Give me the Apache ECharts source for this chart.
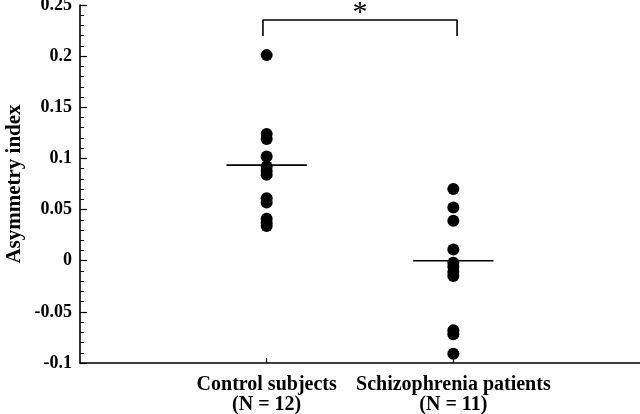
<!DOCTYPE html>
<html><head><meta charset="utf-8">
<script src="https://cdn.jsdelivr.net/npm/echarts@6/dist/echarts.min.js"></script>
<style>html,body{margin:0;padding:0;background:#fff}#c{width:640px;height:414px}</style>
</head><body><div id="c"></div>
<script>
var categories = ["Control subjects\n(N = 12)", "Schizophrenia patients\n(N = 11)"];
var controlValues = [0.201, 0.124, 0.119, 0.102, 0.092, 0.088, 0.084, 0.061, 0.057, 0.041, 0.037, 0.034];
var patientValues = [0.070, 0.052, 0.039, 0.011, -0.002, -0.006, -0.011, -0.015, -0.068, -0.072, -0.091];
var groupMeans = [0.0935, 0.0];
var yTicks = [-0.1, -0.05, 0, 0.05, 0.1, 0.15, 0.2, 0.25];
var significance = "*";

var font = '"Liberation Serif", "Times New Roman", serif';
var groups = [controlValues, patientValues];
var halfW = 0.215;

var series = [];
groups.forEach(function (vals, gi) {
  series.push({
    type: 'scatter', symbol: 'circle', symbolSize: 12,
    itemStyle: { color: '#000', opacity: 1 },
    data: vals.map(function (v) { return [gi + 1, v]; }),
    z: 3
  });
  series.push({
    type: 'line', symbol: 'none', lineStyle: { color: '#000', width: 1.6 },
    data: [[gi + 1 - halfW, groupMeans[gi]], [gi + 1 + halfW, groupMeans[gi]]],
    z: 4
  });
});
// significance bracket
var bTop = 0.2353, bEnd = 0.2197;
series.push({
  type: 'line', symbol: 'none', lineStyle: { color: '#000', width: 1.6 },
  data: [[0.98, bEnd], [0.98, bTop], [2.02, bTop], [2.02, bEnd]]
});
series.push({
  type: 'scatter', symbol: 'circle', symbolSize: 1,
  itemStyle: { color: 'rgba(0,0,0,0)', opacity: 1 },
  data: [[1.5, 0.2425]],
  label: { show: true, position: 'inside', formatter: significance, color: '#000', fontFamily: font, fontSize: 30, opacity: 1 },
  z: 5
});

var chart = echarts.init(document.getElementById('c'));
chart.setOption({
  animation: false,
  grid: { left: 80, right: 0, top: 5, bottom: 51, outerBoundsMode: 'none', containLabel: false },
  xAxis: {
    type: 'value', min: 0, max: 3, interval: 1,
    axisLine: { show: true, onZero: false, lineStyle: { color: '#000', width: 1.6 } },
    splitLine: { show: false },
    axisTick: { show: true, inside: true, length: 5, customValues: [1, 2], lineStyle: { color: '#000', width: 1.2 } },
    axisLabel: {
      customValues: [1, 2],
      formatter: function (v) { return categories[Math.round(v) - 1] || ''; },
      color: '#000', fontFamily: font, fontWeight: 'bold', fontSize: 20, lineHeight: 20, margin: 12
    }
  },
  yAxis: {
    type: 'value', min: -0.1, max: 0.25, interval: 0.05,
    name: 'Asymmetry index', nameLocation: 'middle', nameGap: 55, nameMoveOverlap: false,
    nameTextStyle: { color: '#000', fontFamily: font, fontWeight: 'bold', fontSize: 21 },
    axisLine: { show: true, onZero: false, lineStyle: { color: '#000', width: 1.6 } },
    splitLine: { show: false },
    axisTick: { show: true, inside: true, length: 7, lineStyle: { color: '#000', width: 1.2 } },
    minorTick: { show: true, splitNumber: 5, length: 4, lineStyle: { color: '#000', width: 1 } },
    axisLabel: {
      customValues: yTicks,
      formatter: function (v) { return String(parseFloat(v.toFixed(2))); },
      color: '#000', fontFamily: font, fontWeight: 'bold', fontSize: 18, margin: 8
    }
  },
  series: series
});
</script></body></html>
